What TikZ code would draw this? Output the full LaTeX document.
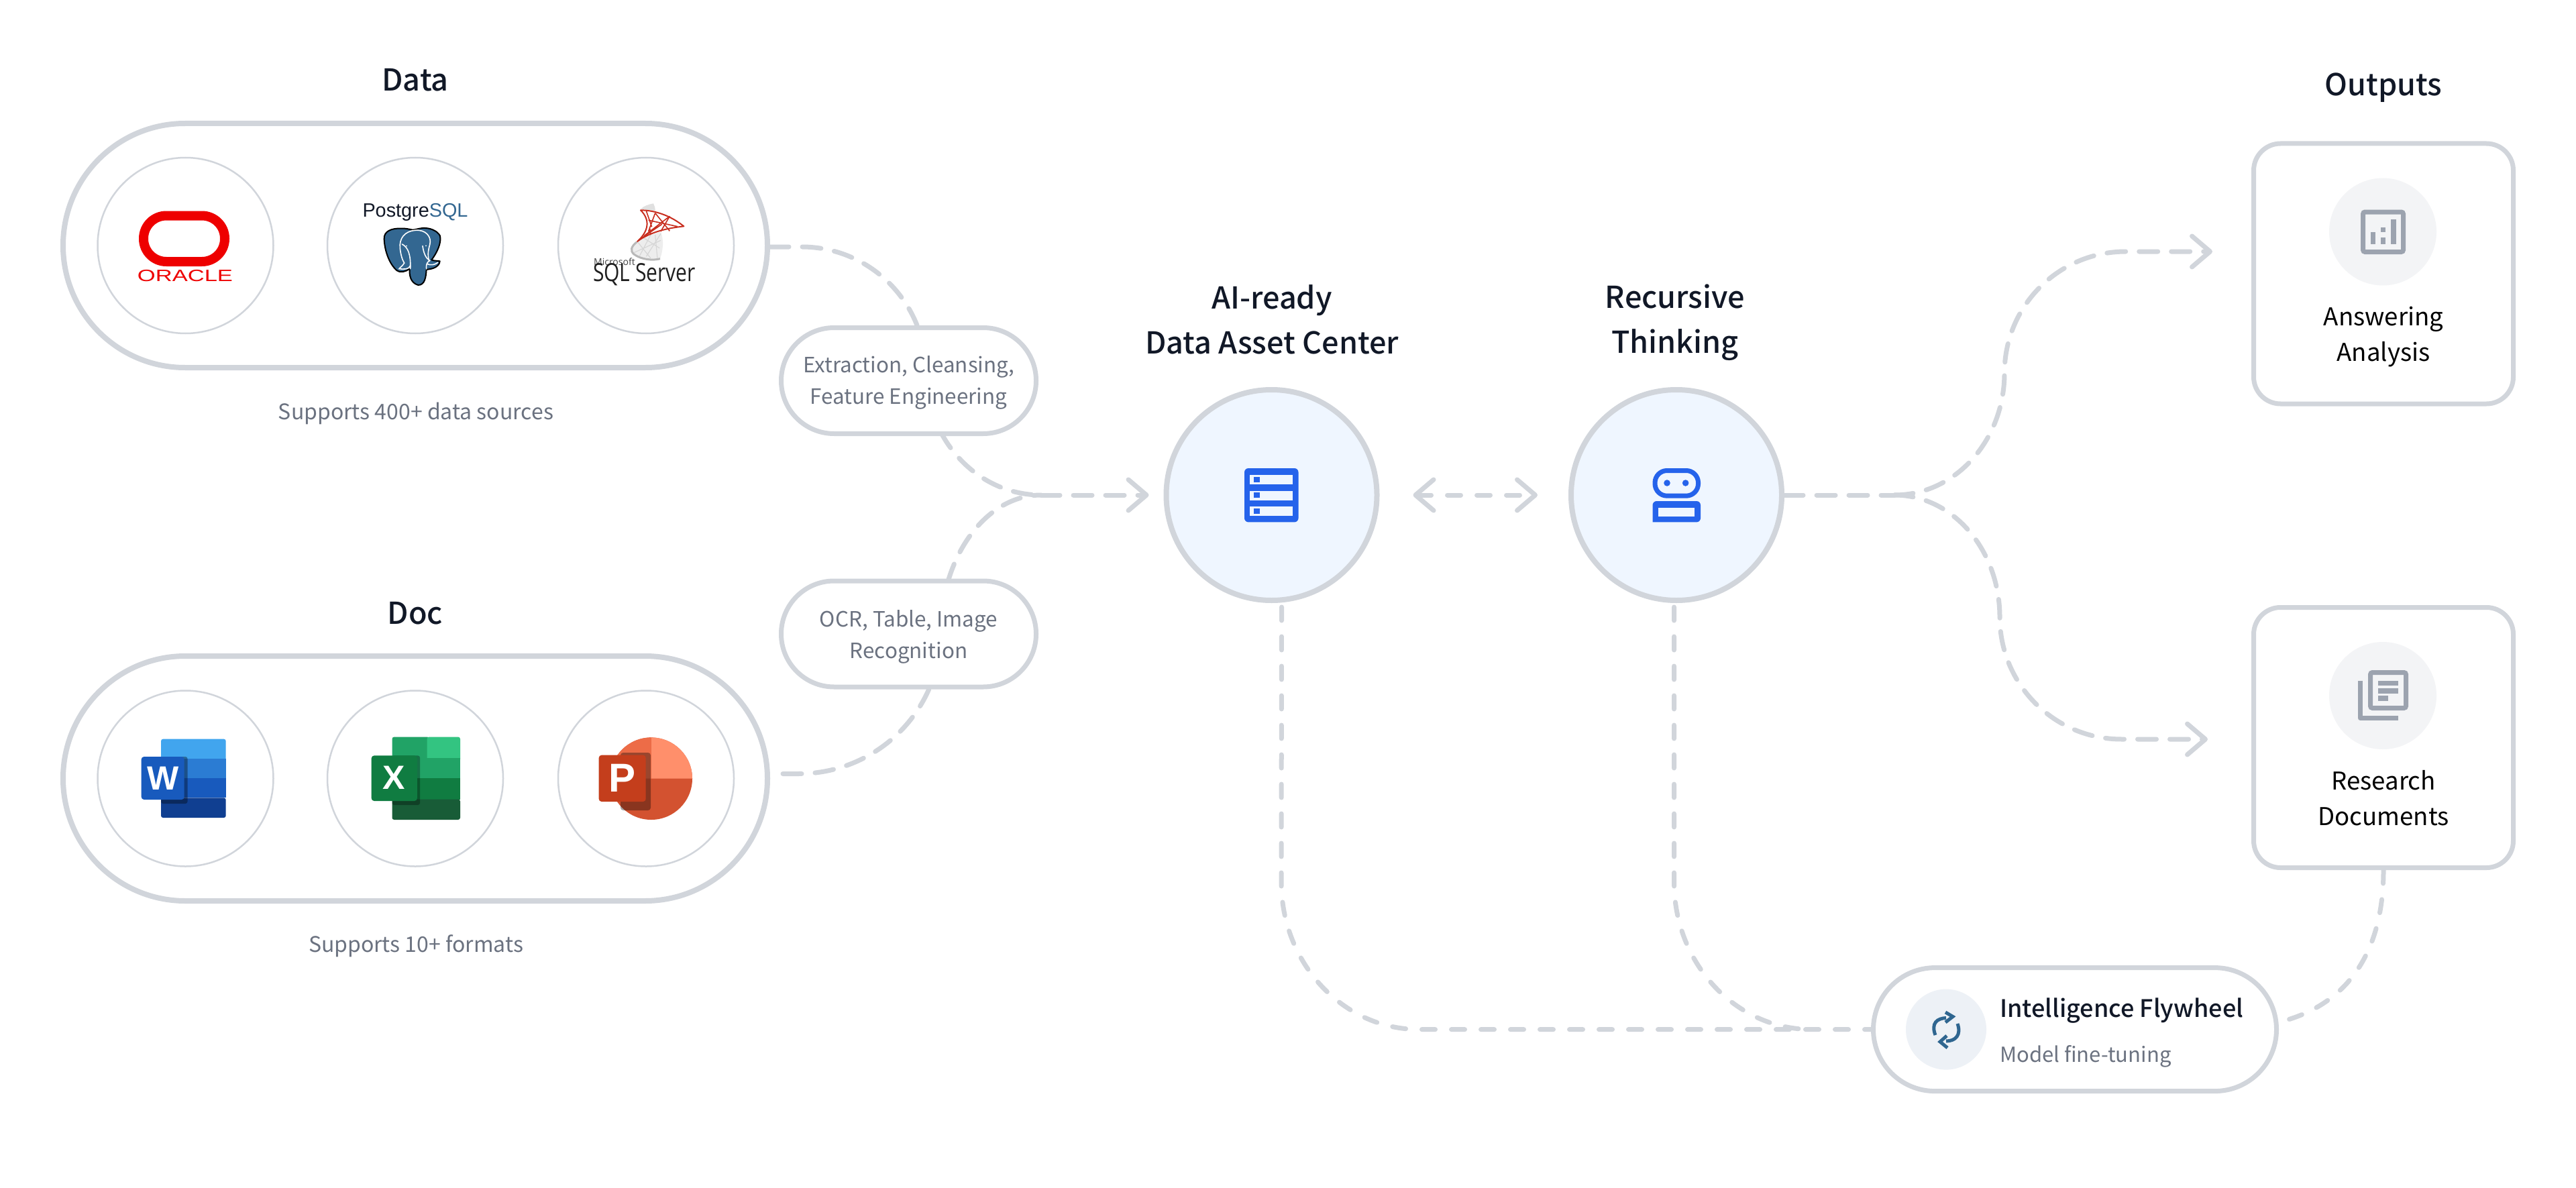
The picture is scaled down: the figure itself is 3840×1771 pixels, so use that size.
\documentclass[tikz,border=0pt]{standalone}
\usepackage{fontspec}
\usepackage{graphicx}
\usetikzlibrary{arrows.meta,calc,backgrounds}
\setmainfont{Noto Sans CJK SC}
\newfontfamily\medf{Noto Sans CJK SC Medium}
\newfontfamily\lib{Liberation Sans}
\newfontfamily\ops{Open Sans}
\definecolor{edge}{HTML}{D1D5DB}
\definecolor{ink}{HTML}{111827}
\definecolor{sub}{HTML}{6B7280}
\definecolor{blue}{HTML}{2563EB}
\definecolor{pale}{HTML}{EFF6FF}
\definecolor{gicon}{HTML}{9CA3AF}
\definecolor{gdisc}{HTML}{F3F4F6}
\definecolor{pg}{HTML}{336791}
\definecolor{discb}{HTML}{EDF1F6}
\definecolor{orared}{HTML}{EE0000}
\definecolor{msred}{HTML}{C82D1E}
\definecolor{syncc}{HTML}{2F6690}
\definecolor{wa}{HTML}{41A5EE}
\definecolor{wb}{HTML}{2B7CD3}
\definecolor{wc}{HTML}{185ABD}
\definecolor{wd}{HTML}{103F91}
\definecolor{xa}{HTML}{21A366}
\definecolor{xb}{HTML}{33C481}
\definecolor{xc}{HTML}{107C41}
\definecolor{xd}{HTML}{185C37}
\definecolor{pa}{HTML}{D35230}
\definecolor{pb}{HTML}{FF8F6B}
\definecolor{pc}{HTML}{ED6C47}
\definecolor{pd}{HTML}{C43E1C}
\tikzset{
  pill/.style={rectangle,draw=edge,fill=white,line width=8pt,inner sep=0pt},
  logodisc/.style={circle,draw=edge,fill=white,line width=2.5pt,minimum size=262pt,inner sep=0pt},
  bigdisc/.style={circle,draw=edge,fill=pale,line width=8pt,minimum size=314pt,inner sep=0pt},
  outbox/.style={rectangle,draw=edge,fill=white,line width=7pt,minimum width=387pt,minimum height=388pt,rounded corners=40pt,inner sep=0pt},
  icondisc/.style={circle,fill=gdisc,minimum size=160pt,inner sep=0pt},
  title/.style={text=ink,align=center,inner sep=0pt,font=\medf\fontsize{45}{67}\selectfont},
  note/.style={text=sub,align=center,inner sep=0pt,font=\fontsize{32}{40}\selectfont},
  steptext/.style={text=sub,align=center,inner sep=0pt,font=\fontsize{31.4}{47}\selectfont},
  outtext/.style={text=black,align=center,inner sep=0pt,font=\fontsize{36.6}{53}\selectfont},
  longdash/.style={draw=edge,line width=7pt,line cap=round,dash pattern=on 28pt off 20pt},
  shortdash/.style={draw=edge,line width=7pt,line cap=round,dash pattern=on 20pt off 24pt},
  barb/.tip={Straight Barb[length=27pt,width=46pt,line width=7pt,round]},
}
\begin{document}
\begin{tikzpicture}[x=1pt,y=-1pt]
\useasboundingbox (0,0) rectangle (3840,1771);

% ---- main nodes
\node[pill,minimum width=1050pt,minimum height=364pt,rounded corners=181.9pt] (data) at (619,366) {};
\node[pill,minimum width=1050pt,minimum height=365pt,rounded corners=182.4pt] (doc) at (619,1160.5) {};
\node[pill,line width=7pt,minimum width=380pt,minimum height=158pt,rounded corners=78.9pt] (ext) at (1354.5,567.5) {};
\node[pill,line width=7pt,minimum width=380pt,minimum height=158pt,rounded corners=78.9pt] (ocr) at (1354.5,945) {};
\node[steptext] (exttext) at (1354.5,570.5) {Extraction, Cleansing,\\Feature Engineering};
\node[steptext] (ocrtext) at (1354.5,949) {OCR, Table, Image\\Recognition};
\node[bigdisc] (ai) at (1895.5,738) {};
\node[bigdisc] (rec) at (2499,738) {};
\node[outbox] (ans) at (3553,408) {};
\node[outbox] (res) at (3553,1099.5) {};
\node[pill,line width=7pt,minimum width=601pt,minimum height=184pt,rounded corners=91.9pt] (fly) at (3093,1534.6) {};

% ---- connectors (behind the nodes)
\begin{scope}[on background layer]
\fill[white] (0,0) rectangle (3840,1771);
\coordinate (mergeL) at (1552,738);
\coordinate (mergeR) at (2824,738);
\coordinate (mergeB) at (2700,1534.6);
\draw[longdash] ($(data.east)+(0,2)$) -- (1195,368)
  .. controls (1297,368) and (1380,451) .. (1380,553)
  .. controls (1380,655) and (1457,738) .. (mergeL);
\draw[longdash] ($(doc.east)+(19,-7)$) -- (1190,1153.5)
  .. controls (1307,1153.5) and (1402,1060) .. (1402,945)
  .. controls (1402,831) and (1469,738) .. (mergeL);
\draw[longdash,-barb] (mergeL) -- ($(ai.west)+(-22,0)$);
\draw[shortdash,barb-barb,shorten <=50pt,shorten >=46pt] (ai.east) -- (rec.west);
\draw[longdash] (rec.east) -- (mergeR);
\draw[longdash,-barb] (mergeR)
  .. controls (2915,738) and (2988,656) .. (2988,556)
  .. controls (2988,456) and (3069,375) .. (3169,375)
  -- ($(ans.west)+(-58,-33)$);
\draw[longdash,-barb] (mergeR)
  .. controls (2911,738) and (2981,820) .. (2981,920)
  .. controls (2981,1020) and (3062,1102) .. (3163,1102)
  -- ($(res.west)+(-65,2.5)$);
\draw[shortdash] ($(ai.south)+(15,6)$) -- (1910,1315)
  .. controls (1910,1436) and (2002,1534.6) .. (2115,1534.6)
  -- (fly.west);
\draw[shortdash] ($(rec.south)+(-3.5,6)$) -- (2495.5,1315)
  .. controls (2495.5,1436) and (2587,1534.6) .. (mergeB);
\draw[shortdash] (res.south)
  .. controls (3553,1430) and (3490,1500) .. ($(fly.east)+(3,-11.6)$);
\end{scope}

% ---- titles and notes
\node[title] (tdata) at (619,119.5) {Data};
\node[title] (tdoc) at (619,914.5) {Doc};
\node[title] (tai) at (1896,476) {AI-ready\\Data Asset Center};
\node[title] (trec) at (2497,480.5) {Recursive\\Thinking};
\node[title] (tout) at (3553,131) {Outputs};
\node[note] (ndata) at (620,616) {Supports 400+ data sources};
\node[note] (ndoc) at (620,1410) {Supports 10+ formats};

% ---- logo discs
\node[logodisc] (d1) at (276.5,366) {};
\node[logodisc] (d2) at (619,366) {};
\node[logodisc] (d3) at (963,366) {};
\node[logodisc] (d4) at (276.5,1160.5) {};
\node[logodisc] (d5) at (619,1160.5) {};
\node[logodisc] (d6) at (963,1160.5) {};

% ---- Oracle
\draw[orared,line width=14pt,rounded corners=34pt] (214,321.5) rectangle (335,390);
\node[text=orared,inner sep=0pt,font=\lib\fontsize{24.5}{24.5}\selectfont] (oratext) at (276,411.5) {\scalebox{1.41}[1]{ORACLE}};

% ---- PostgreSQL
\node[inner sep=0pt,anchor=base,font=\lib\fontsize{26}{26}\selectfont] (pgtext) at (619,323) {\resizebox{157pt}{!}{\textcolor{ink}{Postgre}\textcolor{pg}{SQL}}};
\begin{scope}[shift={(520,290)},x=0.3333pt,y=-0.3333pt]
\path[fill=pg,draw=black,line width=2pt,line join=round]
 (232,152) .. controls (190,150) and (155,165) .. (158,200)
 .. controls (160,250) and (180,310) .. (215,340)
 .. controls (230,352) and (255,345) .. (272,332)
 .. controls (270,360) and (275,395) .. (310,405)
 .. controls (340,405) and (345,370) .. (347,335)
 .. controls (370,335) and (405,325) .. (407,298)
 .. controls (395,295) and (380,298) .. (370,292)
 .. controls (395,260) and (415,215) .. (408,185)
 .. controls (395,160) and (360,148) .. (330,150)
 .. controls (310,152) and (295,158) .. (285,158)
 .. controls (270,155) and (250,150) .. (232,152) -- cycle;
\draw[white,line width=1.6pt,line cap=round]
 (295,160) .. controls (250,165) and (225,195) .. (229,240)
 .. controls (232,270) and (240,295) .. (248,306);
\draw[white,line width=1.6pt,line cap=round]
 (295,160) .. controls (345,155) and (372,190) .. (362,225)
 .. controls (355,250) and (352,265) .. (358,295);
\draw[white,line width=1.6pt,line cap=round]
 (238,222) .. controls (265,235) and (278,270) .. (275,332);
\draw[white,line width=1.6pt,line cap=round]
 (330,230) .. controls (335,265) and (345,285) .. (362,296)
 .. controls (350,302) and (345,310) .. (347,333);
\draw[white,line width=1.6pt,line cap=round]
 (248,306) .. controls (240,320) and (230,325) .. (225,332)
 .. controls (245,335) and (270,335) .. (275,318);
\draw[white,line width=1.6pt,line cap=round] (350,310) .. controls (365,318) and (385,315) .. (398,304);
\fill[white] (258,230) circle (3);
\fill[white] (345,229) circle (3);
\end{scope}

% ---- SQL Server
\begin{scope}[shift={(870,295)},x=0.3333pt,y=-0.3333pt]
\fill[black!12] (255,50) .. controls (270,35) and (295,28) .. (312,25)
  .. controls (318,35) and (320,45) .. (320,58) .. controls (295,55) and (275,52) .. (255,50) -- cycle;
\fill[black!7] (240,195) .. controls (215,215) and (205,235) .. (225,252)
  .. controls (255,275) and (310,282) .. (342,272)
  .. controls (355,235) and (360,190) .. (345,152)
  .. controls (310,160) and (270,175) .. (240,195) -- cycle;
\draw[black!28,line width=3pt] (238,197) .. controls (212,218) and (207,236) .. (225,252) .. controls (255,275) and (310,282) .. (342,272);
\draw[black!16,line width=1.2pt]
 (240,195) -- (300,270) (270,180) -- (340,225) (300,165) -- (250,260) (345,160) -- (280,262) (345,190) -- (225,245) (320,165) -- (330,270);
\path[fill=white,draw=msred,line width=2pt,line join=round]
 (255,55) .. controls (320,55) and (390,80) .. (448,127)
 .. controls (380,135) and (300,150) .. (240,195)
 .. controls (290,150) and (300,100) .. (255,55) -- cycle;
\draw[msred,line width=1.6pt]
 (280,58) -- (305,130) (320,68) -- (290,150) (320,68) -- (385,148) (385,82) -- (270,170)
 (385,82) -- (345,150) (290,100) -- (420,128) (262,178) -- (350,118) (295,130) -- (300,165);
\end{scope}
\node[anchor=west,inner sep=0pt,text=black!75,font=\ops\fontsize{14}{14}\selectfont] (mstext) at (885,390.5) {Microsoft};
\node[inner sep=0pt,text=black!88,font=\ops\fontsize{28}{28}\selectfont] (sqltext) at (960.5,409.5) {\resizebox{153pt}{27pt}{SQL Server}};

% ---- Word
\fill[wa,rounded corners=3pt] (240,1101.7) rectangle (336.7,1150);
\fill[wb] (240,1130.7) rectangle (336.7,1160);
\fill[wc] (240,1160) rectangle (336.7,1189.3);
\fill[wd,rounded corners=3pt] (240,1189.3) rectangle (336.7,1219);
\fill[black,opacity=.35,rounded corners=3pt] (240,1128) rectangle (279.5,1198);
\fill[wc,rounded corners=4pt] (210.7,1128) rectangle (274.7,1192);
\node[text=white,inner sep=0pt,font=\lib\bfseries\fontsize{50}{50}\selectfont] (wlet) at (243,1160) {W};

% ---- Excel
\fill[xa,rounded corners=3pt] (584.5,1098.6) rectangle (640,1135);
\fill[xb,rounded corners=3pt] (636.5,1098.6) rectangle (686,1135);
\fill[xa] (584.5,1130) rectangle (686,1160);
\fill[xc] (584.5,1160) rectangle (686,1191.5);
\fill[xd,rounded corners=3pt] (584.5,1191.5) rectangle (686,1222);
\fill[black,opacity=.3,rounded corners=3pt] (584.5,1126.4) rectangle (626,1200);
\fill[xc,rounded corners=4pt] (553.7,1126.4) rectangle (621.8,1194);
\node[text=white,inner sep=0pt,font=\lib\bfseries\fontsize{50}{50}\selectfont] (xlet) at (587,1159) {X};

% ---- PowerPoint
\fill[pa] (970.7,1160.7) circle (61.3);
\fill[pb] (970.7,1160.7) -- (970.7,1099.4) .. controls (1004.5,1099.4) and (1032,1126.9) .. (1032,1160.7) -- cycle;
\fill[pc] (970.7,1160.7) -- (970.7,1099.4) .. controls (936.9,1099.4) and (909.4,1126.9) .. (909.4,1160.7) -- cycle;
\fill[black,opacity=.35,rounded corners=4pt] (925,1122) rectangle (970,1208);
\fill[pd,rounded corners=4pt] (892.7,1125.7) rectangle (962.7,1195);
\node[text=white,inner sep=0pt,font=\lib\bfseries\fontsize{60}{60}\selectfont] (plet) at (927,1160) {P};

% ---- database icon
\fill[blue,rounded corners=6pt] (1855,698) rectangle (1935.5,778.4);
\foreach \yy in {708,731.5,755} {
  \fill[pale] (1863.4,\yy) rectangle (1927,\yy+14);
  \fill[blue] (1868.5,\yy+2.5) rectangle (1877.5,\yy+10.8);
}

% ---- robot icon
\draw[blue,line width=7pt,rounded corners=18pt] (2467,701.5) rectangle (2531.5,739.2);
\fill[blue] (2485,720) circle (4.8);
\fill[blue] (2512.6,720) circle (4.8);
\fill[blue,rounded corners=6pt] (2463.5,778.4) -- (2463.5,747) -- (2535,747) -- (2535,778.4) [sharp corners] -- cycle;
\fill[pale] (2472,756.5) rectangle (2526,770);

% ---- answering
\node[icondisc] (ansdisc) at (3552,345.5) {};
\draw[gicon,line width=7pt,rounded corners=3pt] (3522.5,316) rectangle (3582.5,375.5);
\fill[gicon] (3534,346) rectangle (3541,364);
\fill[gicon] (3549,353.5) rectangle (3556,364);
\fill[gicon] (3549,338.6) rectangle (3556,346);
\fill[gicon] (3564,327) rectangle (3571.5,364);
\node[outtext] (anstext) at (3553,502) {Answering\\Analysis};

% ---- research
\node[icondisc] (resdisc) at (3552,1037) {};
\draw[gicon,line width=7pt,rounded corners=3pt] (3533.5,1002.5) rectangle (3586.5,1055.5);
\fill[gicon] (3545,1014.6) rectangle (3575,1022);
\fill[gicon] (3545,1026) rectangle (3575,1033.5);
\fill[gicon] (3545,1037) rectangle (3560,1045);
\draw[gicon,line width=7pt,line join=round] (3518.5,1014.6) -- (3518.5,1070.5) -- (3575,1070.5);
\node[outtext] (restext) at (3553,1189.3) {Research\\Documents};

% ---- flywheel
\node[circle,fill=discb,minimum size=120pt,inner sep=0pt] (flydisc) at (2901,1534.6) {};
\draw[syncc,line width=5pt] (2885,1543) .. controls (2878,1525) and (2888,1518) .. (2901,1517.5);
\draw[syncc,line width=5pt,line join=miter] (2900,1509) -- (2911,1515.5) -- (2900,1524);
\draw[syncc,line width=5pt] (2918,1526) .. controls (2924,1543) and (2915,1552) .. (2901,1552);
\draw[syncc,line width=5pt,line join=miter] (2902,1544) -- (2892,1553) -- (2903,1562);
\node[anchor=west,text=ink,inner sep=0pt,font=\medf\fontsize{36}{40}\selectfont] (flyt) at (2981,1506.5) {Intelligence Flywheel};
\node[anchor=west,text=sub,inner sep=0pt,font=\fontsize{31}{40}\selectfont] (flys) at (2981,1575) {Model fine-tuning};
\end{tikzpicture}
\end{document}
